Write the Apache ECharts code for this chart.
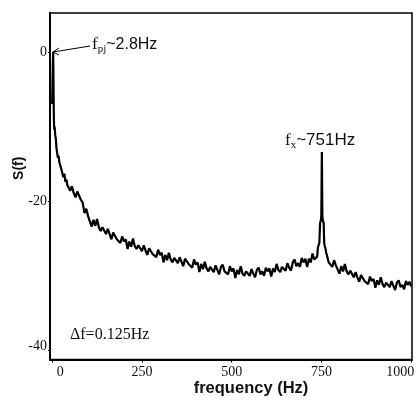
<!DOCTYPE html>
<html><head><meta charset="utf-8">
<script src="https://cdn.jsdelivr.net/npm/echarts@6/dist/echarts.min.js"></script>
<style>html,body{margin:0;padding:0;background:#fff}#c{width:417px;height:403px}</style>
</head><body><div id="c"></div>
<script>
// ---- data (frequency in Hz, S(f) in dB) ----
const lowFreqs = [0, 1, 2, 2.8, 3.5, 4.5, 5.5, 7, 8.5, 10, 12, 14, 16, 18, 20, 22, 25, 28, 31, 34, 37, 40, 42];
const lowVals  = [-7, -4, -1.5, 0, -3, -8, -10.4, -10.0, -11.2, -11.5, -12.9, -13.1, -14.2, -13.9, -14.8, -14.7, -15.6, -15.8, -16.8, -16.3, -17.4, -17.1, -17.8];

const midFreqs = [45,50,55,60,65,70,75,80,85,90,95,100,105,110,115,120,125,130,135,140,145,150,155,160,165,170,175,180,185,190,195,200,205,210,215,220,225,230,235,240,245,250,255,260,265,270,275,280,285,290,295,300,305,310,315,320,325,330,335,340,345,350,355,360,365,370,375,380,385,390,395,400,405,410,415,420,425,430,435,440,445,450,455,460,465,470,475,480,485,490,495,500,505,510,515,520,525,530,535,540,545,550,555,560,565,570,575,580,585,590,595,600,605,610,615,620,625,630,635,640,645,650,655,660,665,670,675,680,685,690,695,700,705,710,715,720,725,730,735];
const midVals  = [-17.6,-18.6,-18.0,-18.9,-19.5,-18.7,-18.6,-19.8,-20.2,-21.6,-21.0,-22.0,-21.9,-23.4,-22.5,-23.3,-22.4,-23.5,-24.0,-23.5,
                  -23.6,-24.4,-23.7,-24.4,-25.1,-24.2,-24.1,-25.1,-24.9,-25.6,-24.7,-25.4,-25.1,-26.4,-25.4,-26.1,-25.0,-26.0,-26.4,-25.9,
                  -25.9,-26.7,-25.9,-26.6,-27.2,-26.3,-26.1,-27.1,-26.9,-27.5,-26.5,-27.2,-26.9,-28.2,-27.2,-27.9,-26.9,-27.8,-28.2,-27.6,
                  -27.6,-28.3,-27.5,-28.1,-28.7,-27.7,-27.5,-28.4,-28.2,-28.9,-27.8,-28.5,-28.2,-29.5,-28.4,-29.1,-28.1,-29.0,-29.4,-28.8,
                  -28.8,-29.5,-28.6,-29.2,-29.8,-28.8,-28.5,-29.4,-29.2,-29.8,-28.7,-29.4,-29.0,-30.3,-29.2,-29.8,-28.7,-29.7,-30.0,-29.4,
                  -29.3,-30.0,-29.1,-29.7,-30.2,-29.2,-28.9,-29.8,-29.4,-30.0,-28.9,-29.4,-29.0,-30.1,-29.0,-29.5,-28.4,-29.2,-29.5,-28.8,
                  -28.7,-29.3,-28.3,-28.9,-29.3,-28.2,-27.8,-28.7,-28.3,-28.8,-27.6,-28.2,-27.7,-28.8,-27.7,-28.2,-27.0,-27.8,-28.0];

const peakFreqs = [738, 740, 742, 744, 746, 748, 749.5, 751, 752.5, 754, 756, 757.5, 759, 761, 763, 765, 767];
const peakVals  = [-27.4, -26.2, -26.0, -25.6, -23.0, -22.6, -22.0, -13.4, -22.1, -22.6, -22.9, -25.6, -26.0, -26.3, -26.9, -27.2, -27.6];

const highFreqs = [770,775,780,785,790,795,800,805,810,815,820,825,830,835,840,845,850,855,860,865,870,875,880,885,890,895,900,905,910,915,920,925,930,935,940,945,950,955,960,965,970,975,980,985,990,995,1000];
const highVals  = [-28.2,-28.0,-28.8,-27.9,-28.6,-28.4,-29.7,-28.7,-29.4,-28.4,-29.4,-29.8,-29.3,-29.4,-30.2,-29.5,-30.2,-30.8,-29.9,-29.7,
                   -30.7,-30.5,-31.1,-30.1,-30.7,-30.4,-31.6,-30.6,-31.2,-30.2,-31.1,-31.5,-30.9,-30.8,-31.5,-30.7,-31.3,-31.9,-30.9,-30.6,
                   -31.5,-31.2,-31.8,-30.7,-31.2,-30.8,-31.4];

const xTicks = [0, 250, 500, 750, 1000];
const yTicks = [0, -20, -40];

// ---- build ----
function pairs(f, v) { return f.map((x, i) => [x, v[i]]); }
const data = [].concat(pairs(lowFreqs, lowVals), pairs(midFreqs, midVals), pairs(peakFreqs, peakVals), pairs(highFreqs, highVals));

const chart = echarts.init(document.getElementById('c'), null, {renderer: 'canvas'});
const serif = "'Liberation Serif','DejaVu Serif',serif";
const sans = "'Liberation Sans','DejaVu Sans',sans-serif";
const lbl = {fontFamily: serif, fontSize: 14, color: '#111'};
chart.setOption({
  animation: false,
  backgroundColor: '#fff',
  grid: {left: 50, right: 5, top: 13, bottom: 43.5, outerBoundsMode: 'none', containLabel: false,
         show: true, borderColor: '#000', borderWidth: 1.5, backgroundColor: 'transparent'},
  xAxis: {
    type: 'value', min: -6, max: 1002,
    axisLine: {show: true, onZero: false, lineStyle: {color: '#000', width: 2}},
    axisTick: {show: true, length: 3, lineStyle: {color: '#000'}, customValues: xTicks},
    axisLabel: Object.assign({customValues: xTicks, margin: 6,
      formatter: v => v === 0 ? '{a|0}' : (v === 1000 ? '{b|1000}' : String(v)),
      rich: {a: Object.assign({padding: [0, 0, 0, 16]}, lbl), b: Object.assign({padding: [0, 22, 0, 0]}, lbl)}}, lbl),
    splitLine: {show: false},
    name: 'frequency (Hz)', nameLocation: 'middle', nameGap: 20, nameMoveOverlap: false,
    nameTextStyle: {fontFamily: sans, fontSize: 16.5, fontWeight: 'bold', color: '#111', padding: [0, 0, 0, 40]}
  },
  yAxis: {
    type: 'value', min: -41.2, max: 5.2,
    axisLine: {show: true, onZero: false, lineStyle: {color: '#000', width: 2}},
    axisTick: {show: true, length: 2, lineStyle: {color: '#000'}, customValues: yTicks},
    axisLabel: Object.assign({customValues: yTicks, margin: 3,
      formatter: v => v === -40 ? '{c|-40}' : String(v),
      rich: {c: Object.assign({padding: [0, 0, 8, 0]}, lbl)}}, lbl),
    splitLine: {show: false},
    name: 'S(f)', nameLocation: 'middle', nameGap: 24, nameRotate: 90, nameMoveOverlap: false,
    nameTextStyle: {fontFamily: sans, fontSize: 14, fontWeight: 'bold', color: '#111', padding: [0, 0, 0, 36]}
  },
  series: [{
    type: 'line', data: data, showSymbol: false, symbol: 'none',
    lineStyle: {color: '#000', width: 2.2}, z: 3
  }],
  graphic: [
    {type: 'line', shape: {x1: 53, y1: 52, x2: 90, y2: 46}, style: {stroke: '#000', lineWidth: 1}},
    {type: 'polyline', shape: {points: [[59, 48], [53, 52], [59, 55]]}, style: {stroke: '#000', lineWidth: 1, fill: null}},
    {type: 'text', left: 92, top: 36, style: {
      text: '{f|f}{s|pj}{t|~2.8Hz}',
      rich: {f: {fontFamily: serif, fontSize: 17, fill: '#111'}, s: {fontFamily: serif, fontSize: 11, fill: '#111', padding: [9, 0, 0, 0]}, t: {fontFamily: sans, fontSize: 16, fill: '#111'}}}},
    {type: 'text', left: 285, top: 132, style: {
      text: '{f|f}{s|x}{t|~751Hz}',
      rich: {f: {fontFamily: serif, fontSize: 17, fill: '#111'}, s: {fontFamily: serif, fontSize: 11, fill: '#111', padding: [9, 0, 0, 0]}, t: {fontFamily: sans, fontSize: 17, fill: '#111'}}}},
    {type: 'text', left: 70, top: 327, style: {text: '\u0394f=0.125Hz', fontFamily: serif, fontSize: 16, fill: '#111'}}
  ]
});
</script></body></html>
